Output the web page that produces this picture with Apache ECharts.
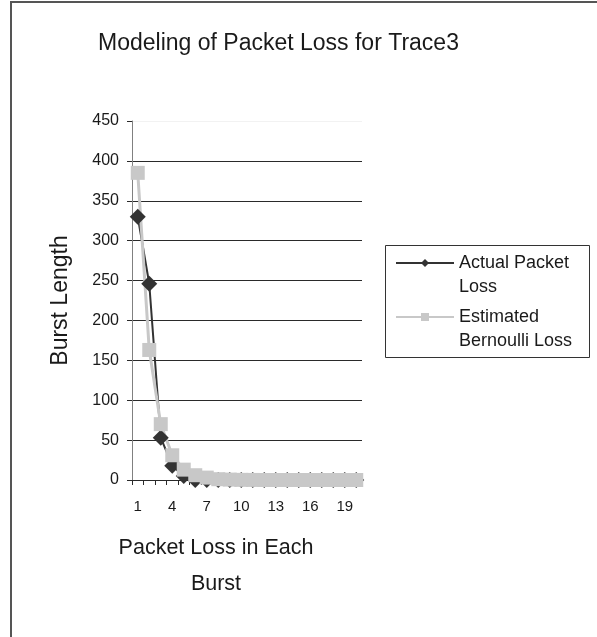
<!DOCTYPE html>
<html>
<head>
<meta charset="utf-8">
<script src="https://cdn.jsdelivr.net/npm/echarts@6/dist/echarts.min.js"></script>
<style>
  html, body { margin: 0; padding: 0; background: #ffffff; }
  #frame {
    position: absolute; left: 10px; top: 1px; width: 700px; height: 700px;
    border-left: 2px solid #555555; border-top: 2px solid #555555;
  }
  #chart { position: absolute; left: 0; top: 0; width: 597px; height: 637px; }
</style>
</head>
<body>
<div id="frame"></div>
<div id="chart"></div>
<script>
// Burst sizes 1..20 (packets lost in a burst)
const burstSizes = ['1','2','3','4','5','6','7','8','9','10','11','12','13','14','15','16','17','18','19','20'];
// Observed number of bursts for each size
const actualLoss = [330, 246, 53, 18, 5, 0, 0, 0, 0, 0, 0, 0, 0, 0, 0, 0, 0, 0, 0, 0];
// Bursts predicted by the Bernoulli model
const bernoulliLoss = [385, 163, 70, 31, 13, 6, 3, 1, 0.5, 0.2, 0.1, 0, 0, 0, 0, 0, 0, 0, 0, 0];
const yTicks = { min: 0, max: 450, step: 50 };

const font = '"Liberation Sans", Arial, sans-serif';
const chart = echarts.init(document.getElementById('chart'), null, { renderer: 'canvas' });

// grid lines: the topmost one is barely visible
const gridColors = [];
for (let v = yTicks.min; v <= yTicks.max; v += yTicks.step) {
  gridColors.push(v === yTicks.max ? '#f2f2f2' : '#2a2a2a');
}

// legend labels wrap onto two lines; a blank first line keeps the
// swatch level with the first line of text
const legendLabels = {
  'Actual Packet Loss': '\nActual Packet\nLoss',
  'Estimated Bernoulli Loss': '\nEstimated\nBernoulli Loss'
};

chart.setOption({
  animation: false,
  backgroundColor: 'transparent',
  title: {
    text: 'Modeling of Packet Loss for Trace3',
    left: 93, top: 27,
    textStyle: { fontFamily: font, fontSize: 23, fontWeight: 'normal', color: '#1a1a1a' }
  },
  legend: {
    left: 395, top: 227,
    orient: 'vertical',
    padding: 0,
    itemGap: -18,
    itemWidth: 58, itemHeight: 10,
    borderWidth: 0,
    textStyle: { fontFamily: font, fontSize: 18, color: '#1a1a1a', lineHeight: 24 },
    formatter: function (name) { return legendLabels[name]; },
    data: ['Actual Packet Loss', 'Estimated Bernoulli Loss']
  },
  graphic: [
    {
      // legend frame
      type: 'rect',
      shape: { x: 385.5, y: 245.5, width: 204, height: 112 },
      style: { fill: 'none', stroke: '#333333', lineWidth: 1 },
      silent: true
    },
    {
      // horizontal axis title
      type: 'text',
      x: 216, y: 530,
      style: {
        text: 'Packet Loss in Each\nBurst',
        font: '21.5px ' + font,
        fill: '#1a1a1a',
        align: 'center',
        verticalAlign: 'top',
        lineHeight: 36
      },
      silent: true
    }
  ],
  grid: { left: 132, top: 121, width: 230, height: 359 },
  xAxis: {
    type: 'category',
    data: burstSizes,
    boundaryGap: true,
    axisLine: { lineStyle: { color: '#2a2a2a', width: 1 } },
    axisTick: { show: true, interval: 0, length: 5, lineStyle: { color: '#2a2a2a' } },
    axisLabel: { interval: 2, margin: 19, fontFamily: font, fontSize: 15, color: '#1a1a1a' },
    splitLine: { show: false }
  },
  yAxis: {
    type: 'value',
    min: yTicks.min, max: yTicks.max, interval: yTicks.step,
    name: 'Burst Length',
    nameLocation: 'middle',
    nameGap: 60,
    nameTextStyle: { fontFamily: font, fontSize: 23, color: '#1a1a1a' },
    axisLine: { show: true, lineStyle: { color: '#808080', width: 1 } },
    axisTick: { show: true, length: 5, lineStyle: { color: '#2a2a2a' } },
    axisLabel: { margin: 13, fontFamily: font, fontSize: 16, color: '#1a1a1a' },
    splitLine: { show: true, lineStyle: { color: gridColors, width: 1 } }
  },
  series: [
    {
      name: 'Actual Packet Loss',
      type: 'line',
      data: actualLoss,
      symbol: 'diamond', symbolSize: 16,
      showAllSymbol: true,
      color: '#333333',
      lineStyle: { width: 2, color: '#333333' },
      itemStyle: { color: '#333333' }
    },
    {
      name: 'Estimated Bernoulli Loss',
      type: 'line',
      data: bernoulliLoss,
      symbol: 'rect', symbolSize: 14,
      showAllSymbol: true,
      color: '#c8c8c8',
      lineStyle: { width: 3, color: '#c8c8c8' },
      itemStyle: { color: '#c8c8c8' }
    }
  ]
});
</script>
</body>
</html>
